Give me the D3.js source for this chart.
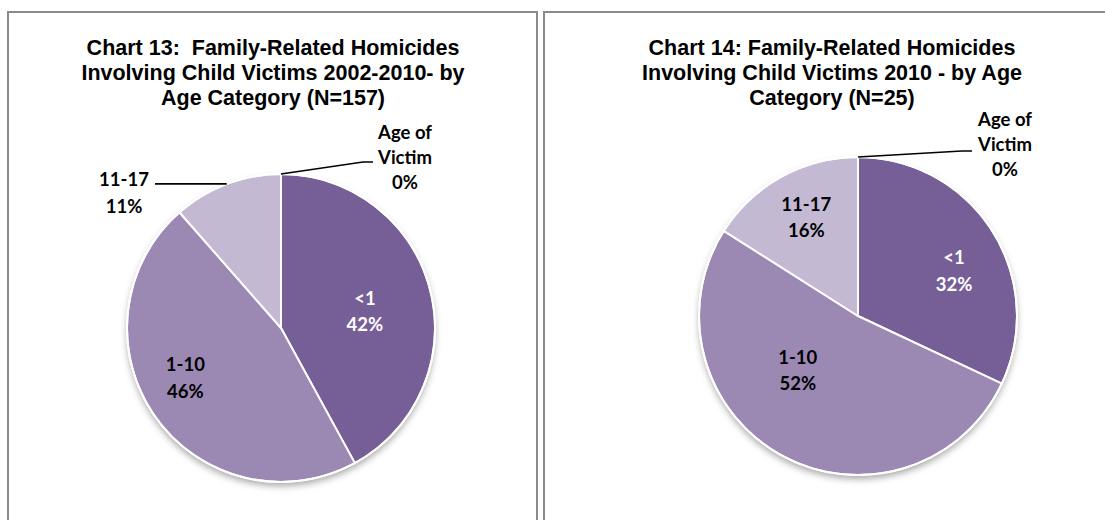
<!DOCTYPE html>
<html>
<head>
<meta charset="utf-8">
<script src="https://cdn.jsdelivr.net/npm/d3@7"></script>
<style>
  html, body { margin: 0; padding: 0; background: #fff; }
  svg { display: block; }
  text { white-space: pre; }
</style>
</head>
<body>
<svg id="chart" width="1105" height="520"></svg>
<script>
// ---- data ----
const categories = ["<1", "1-10", "11-17", "Age of Victim"];
const chart13Values = [66, 73, 18, 0];   // N = 157
const chart14Values = [8, 13, 4, 0];     // N = 25
const chart13Title = ["Chart 13:  Family-Related Homicides", "Involving Child Victims 2002-2010- by", "Age Category (N=157)"];
const chart14Title = ["Chart 14: Family-Related Homicides", "Involving Child Victims 2010 - by Age", "Category (N=25)"];

// ---- styles / layout ----
const sliceColors = ["#765E97", "#9B89B4", "#C3B9D2", "#5E4B7A"];
const titleFont = "'Liberation Sans', Arial, sans-serif";
const labelFont = "Lato, 'Open Sans', sans-serif";

const panels = [
  {
    x0: 8, x1: 537, top: 12, titleX: 273, cx: 281, cy: 328, r: 154,
    values: chart13Values, title: chart13Title,
    labels: [
      { type: "in", angle: 78.6, frac: 0.556, color: "#fff" },
      { type: "in", angle: 242.5, frac: 0.70, color: "#000" },
      { type: "out", tx: -157, ty: -135, elbow: null, end: [-126, 0], color: "#000" },
      { type: "out", tx: 124, ty: -171, elbow: [82, -166], end: [92, -166], color: "#000", multi: true }
    ]
  },
  {
    x0: 544, x1: 1122, top: 12, titleX: 832, cx: 858, cy: 316, r: 159,
    values: chart14Values, title: chart14Title,
    labels: [
      { type: "in", angle: 64.9, frac: 0.667, color: "#fff" },
      { type: "in", angle: 228, frac: 0.51, color: "#000" },
      { type: "in", angle: 332.3, frac: 0.70, color: "#000" },
      { type: "out", tx: 147, ty: -172, elbow: [104, -165], end: [114, -165], color: "#000", multi: true }
    ]
  }
];

const svg = d3.select("#chart");
const defs = svg.append("defs");
const f = defs.append("filter").attr("id", "shadow")
  .attr("x", "-20%").attr("y", "-20%").attr("width", "140%").attr("height", "140%");
f.append("feDropShadow").attr("dx", 0).attr("dy", 4).attr("stdDeviation", 3.5)
  .attr("flood-color", "#000").attr("flood-opacity", 0.35);

const toRad = d => d * Math.PI / 180;

panels.forEach(p => {
  const g = svg.append("g");
  // panel frame (top, left, right)
  g.append("path")
    .attr("d", `M${p.x0},530 L${p.x0},${p.top} L${p.x1},${p.top} L${p.x1},530`)
    .attr("fill", "none").attr("stroke", "#8a8a8a").attr("stroke-width", 2);

  // title
  const t = g.append("text")
    .attr("x", p.titleX).attr("y", 47)
    .attr("text-anchor", "middle")
    .attr("font-family", titleFont).attr("font-weight", "bold")
    .attr("font-size", 21.5).attr("fill", "#000");
  p.title.forEach((line, i) => {
    t.append("tspan").attr("x", p.titleX).attr("y", 47 + i * 25).attr("dy", "0.35em").text(line);
  });

  const total = d3.sum(p.values);
  const pie = d3.pie().sort(null).value(d => d);
  const arcs = pie(p.values);
  const arc = d3.arc().innerRadius(0).outerRadius(p.r);

  const pg = g.append("g").attr("transform", `translate(${p.cx},${p.cy})`);
  // shadow base
  pg.append("circle").attr("r", p.r).attr("fill", "#fff").attr("filter", "url(#shadow)");
  pg.selectAll("path.slice").data(arcs).join("path")
    .attr("class", "slice")
    .attr("d", arc)
    .attr("fill", (d, i) => sliceColors[i])
    .attr("stroke", "#fff").attr("stroke-width", 2).attr("stroke-linejoin", "round");
  pg.append("circle").attr("r", p.r).attr("fill", "none").attr("stroke", "#fff").attr("stroke-width", 2);

  // labels
  arcs.forEach((a, i) => {
    const L = p.labels[i];
    const pct = Math.round(a.data / total * 100) + "%";
    const lines = L.multi ? ["Age of", "Victim", pct] : [categories[i], pct];
    let x, y;
    if (L.type === "in") {
      x = Math.sin(toRad(L.angle)) * p.r * L.frac;
      y = -Math.cos(toRad(L.angle)) * p.r * L.frac;
    } else {
      const mid = (a.startAngle + a.endAngle) / 2;
      const sx = Math.sin(mid) * p.r, sy = -Math.cos(mid) * p.r;
      const pts = [[sx, sy]];
      if (L.elbow) pts.push(L.elbow);
      pts.push([L.end[0], L.end[1] === 0 ? sy : L.end[1]]);
      pg.append("path").attr("d", d3.line()(pts))
        .attr("fill", "none").attr("stroke", "#000").attr("stroke-width", 1.6);
      x = L.tx; y = L.ty;
    }
    const n = lines.length;
    const lh = n === 3 ? 25 : 26.5;
    const txt = pg.append("text")
      .attr("text-anchor", "middle")
      .attr("font-family", labelFont).attr("font-weight", "bold")
      .attr("font-size", 18.5).attr("fill", L.color);
    lines.forEach((s, j) => {
      txt.append("tspan").attr("x", x).attr("y", y + (j - (n - 1) / 2) * lh)
        .attr("dy", "0.36em").text(s);
    });
  });
});
</script>
</body>
</html>
